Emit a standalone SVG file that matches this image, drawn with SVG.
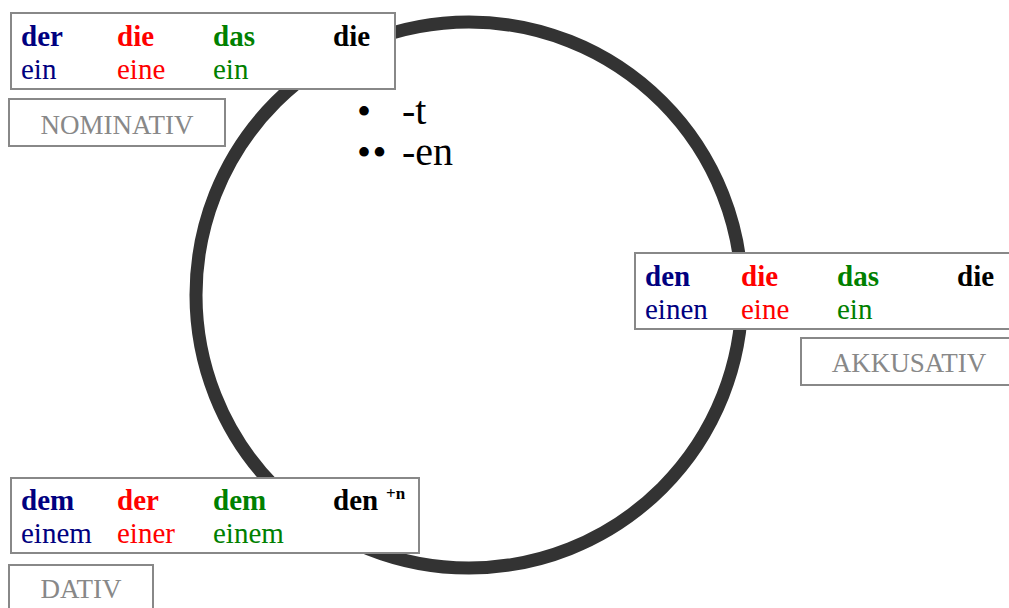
<svg xmlns="http://www.w3.org/2000/svg" width="1009" height="608" viewBox="0 0 1009 608">
<style>
.box{fill:#fff;stroke:#888;stroke-width:2}
.t{font-family:"Liberation Serif","Times New Roman",serif;font-size:29px}
.b{font-weight:bold}
.m{fill:#000080}.f{fill:#ff0000}.n{fill:#008000}.p{fill:#000}
.lab{font-family:"Liberation Serif","Times New Roman",serif;font-size:27px;fill:#888;text-anchor:middle}
.big{font-family:"Liberation Serif","Times New Roman",serif;font-size:40px;fill:#000}
.dot{font-family:"Liberation Serif","Times New Roman",serif;font-size:40px;letter-spacing:1.5px;fill:#000}
.sup{font-family:"Liberation Serif","Times New Roman",serif;font-size:17px;font-weight:bold;fill:#000}
</style>
<rect width="1009" height="608" fill="#fff"/>
<g id="circle">
<circle cx="469" cy="295" r="273" fill="none" stroke="#333" stroke-width="13"/>
</g>
<g id="endings">
<text class="dot" x="357" y="125">•</text>
<text class="big" x="402" y="124">-t</text>
<text class="dot" x="357" y="166">••</text>
<text class="big" x="402" y="165">-en</text>
</g>
<g id="nominativ">
<rect class="box" x="11" y="13" width="384" height="76"/>
<text class="t b m" x="21" y="46">der</text>
<text class="t b f" x="117" y="46">die</text>
<text class="t b n" x="213" y="46">das</text>
<text class="t b p" x="333" y="46">die</text>
<text class="t m" x="21" y="79">ein</text>
<text class="t f" x="117" y="79">eine</text>
<text class="t n" x="213" y="79">ein</text>
</g>
<g id="nominativ-label">
<rect class="box" x="9" y="99" width="216" height="47"/>
<text class="lab" x="117" y="134">NOMINATIV</text>
</g>
<g id="akkusativ">
<rect class="box" x="635" y="253" width="380" height="76"/>
<text class="t b m" x="645" y="286">den</text>
<text class="t b f" x="741" y="286">die</text>
<text class="t b n" x="837" y="286">das</text>
<text class="t b p" x="957" y="286">die</text>
<text class="t m" x="645" y="319">einen</text>
<text class="t f" x="741" y="319">eine</text>
<text class="t n" x="837" y="319">ein</text>
</g>
<g id="akkusativ-label">
<rect class="box" x="801" y="338" width="216" height="47"/>
<text class="lab" x="909" y="372">AKKUSATIV</text>
</g>
<g id="dativ">
<rect class="box" x="11" y="478" width="408" height="75"/>
<text class="t b m" x="21" y="510">dem</text>
<text class="t b f" x="117" y="510">der</text>
<text class="t b n" x="213" y="510">dem</text>
<text class="t b p" x="333" y="510">den</text>
<text class="sup" x="386" y="499">+n</text>
<text class="t m" x="21" y="543">einem</text>
<text class="t f" x="117" y="543">einer</text>
<text class="t n" x="213" y="543">einem</text>
</g>
<g id="dativ-label">
<rect class="box" x="9" y="565" width="144" height="60"/>
<text class="lab" x="81" y="598">DATIV</text>
</g>
<g id="connectors"></g>
</svg>
